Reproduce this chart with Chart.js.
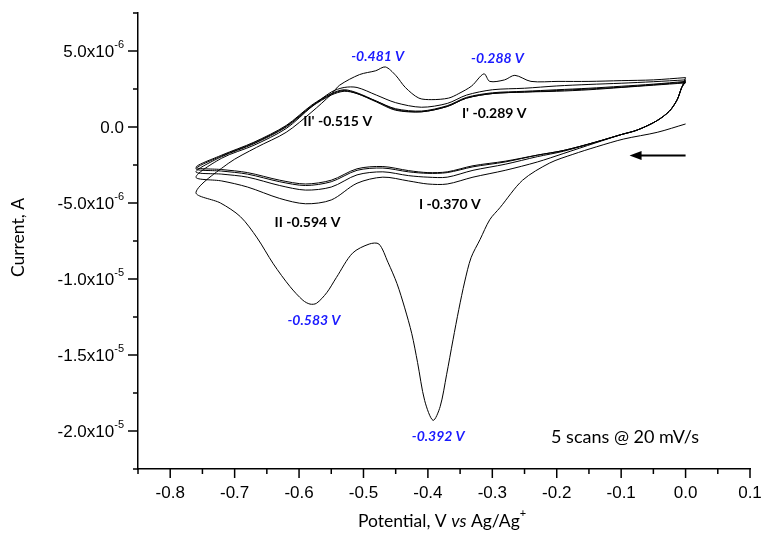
<!DOCTYPE html>
<html>
<head>
<meta charset="utf-8">
<script src="https://cdn.jsdelivr.net/npm/chart.js@4.4.1/dist/chart.umd.min.js"></script>
<style>
  html, body { margin: 0; padding: 0; background: #fff; }
  #wrap { width: 762px; height: 540px; }
</style>
</head>
<body>
<div id="wrap"><canvas id="cv" width="762" height="540"></canvas></div>
<script>
// potentials (V vs Ag/Ag+) and currents (in microamps, the axis shows them as A)

// scan 1 : first sweep, starts at 0 V and goes cathodic
const scan1V = [0.0, -0.044, -0.096, -0.138, -0.175, -0.211, -0.253, -0.288, -0.304, -0.319, -0.333, -0.343, -0.352,
                -0.361, -0.371, -0.381, -0.392,
                -0.405, -0.416, -0.425, -0.436, -0.448, -0.462, -0.476, -0.491, -0.517, -0.542, -0.557, -0.573,
                -0.583, -0.594, -0.614, -0.64, -0.665, -0.691, -0.722, -0.76,
                -0.71, -0.666, -0.62, -0.58, -0.55, -0.537, -0.506, -0.481, -0.466, -0.45, -0.435, -0.414, -0.394,
                -0.368, -0.352, -0.332, -0.313, -0.304, -0.281, -0.265, -0.24, -0.198, -0.15, -0.10, -0.05, 0.0];
const scan1I = [0.2, -0.35, -0.79, -1.3, -1.8, -2.37, -3.5, -5.3, -6.1, -7.4, -8.6, -10.2, -12.0,
                -14.0, -16.3, -18.4, -19.3,
                -18.0, -15.5, -13.6, -11.9, -10.3, -8.9, -7.7, -7.7, -8.3, -9.9, -10.9, -11.6,
                -11.65, -11.4, -10.5, -9.0, -7.3, -5.9, -5.0, -4.3,
                -2.4, -1.34, -0.35, 1.0, 2.15, 2.75, 3.45, 3.7, 3.95, 3.4, 2.6, 1.9, 1.8,
                1.9, 2.2, 2.7, 3.5, 3.0, 3.1, 3.4, 3.0, 3.0, 3.0, 3.05, 3.1, 3.25];

// scans 2-5 share the same potential points
const sweepV = [0.0, -0.006, -0.013, -0.025, -0.045, -0.075, -0.10, -0.14, -0.19, -0.23, -0.28, -0.33, -0.37, -0.40,
                -0.43, -0.47, -0.51, -0.55, -0.59, -0.63, -0.68, -0.72, -0.76,
                -0.72, -0.67, -0.62, -0.58, -0.55, -0.53, -0.51, -0.48, -0.45, -0.41, -0.37, -0.34, -0.30, -0.25,
                -0.20, -0.15, -0.10, -0.05, 0.0];
const scan2I = [3.25, 2.6, 1.8, 1.05, 0.4, -0.2, -0.5, -1.05, -1.75, -2.3, -2.85, -3.3, -3.75, -3.75,
                -3.55, -3.3, -3.7, -4.8, -5.05, -4.7, -3.95, -3.55, -3.3,
                -2.05, -1.2, -0.1, 1.35, 2.3, 2.6, 2.6, 2.1, 1.6, 1.3, 1.55, 2.1, 2.45, 2.55,
                2.7, 2.8, 2.88, 2.98, 3.1];
const scan3I = [3.1, 2.6, 1.8, 1.05, 0.4, -0.2, -0.5, -1.0, -1.6, -1.95, -2.45, -2.85, -3.3, -3.3,
                -3.2, -2.95, -3.15, -3.95, -4.15, -3.85, -3.3, -3.1, -2.95,
                -1.95, -1.1, 0.0, 1.35, 2.1, 2.35, 2.2, 1.7, 1.2, 1.05, 1.4, 1.95, 2.25, 2.35,
                2.45, 2.55, 2.68, 2.82, 3.0];
const scan4I = [3.0, 2.6, 1.8, 1.05, 0.4, -0.2, -0.5, -1.0, -1.55, -1.85, -2.3, -2.62, -3.0, -3.05,
                -2.95, -2.7, -2.85, -3.6, -3.85, -3.6, -3.1, -2.9, -2.75,
                -1.9, -1.05, 0.05, 1.4, 2.15, 2.4, 2.2, 1.65, 1.1, 1.0, 1.35, 1.9, 2.2, 2.3,
                2.4, 2.5, 2.62, 2.78, 2.95];
const scan5I = [2.95, 2.6, 1.8, 1.05, 0.4, -0.2, -0.5, -1.0, -1.55, -1.85, -2.25, -2.55, -2.95, -3.0,
                -2.87, -2.6, -2.75, -3.5, -3.75, -3.5, -3.0, -2.8, -2.65,
                -1.85, -1.0, 0.1, 1.45, 2.2, 2.45, 2.25, 1.7, 1.15, 1.0, 1.35, 1.9, 2.2, 2.3,
                2.35, 2.45, 2.6, 2.75, 2.9];

// peak labels, placed in data coordinates (V, microamps)
const peakLabels = [
    { text: "-0.481 V", v: -0.478, i: 4.67, blue: true },
    { text: "-0.288 V", v: -0.292, i: 4.54, blue: true },
    { text: "II' -0.515 V", v: -0.540, i: 0.39, blue: false },
    { text: "I' -0.289 V", v: -0.297, i: 0.86, blue: false },
    { text: "II -0.594 V", v: -0.587, i: -6.28, blue: false },
    { text: "I -0.370 V", v: -0.366, i: -5.07, blue: false },
    { text: "-0.583 V", v: -0.577, i: -12.7, blue: true },
    { text: "-0.392 V", v: -0.384, i: -20.33, blue: true }
];

const scans = [
    { v: scan1V, i: scan1I },
    { v: sweepV, i: scan2I },
    { v: sweepV, i: scan3I },
    { v: sweepV, i: scan4I },
    { v: sweepV, i: scan5I }
];

const tickFont = '17px "Liberation Sans", Arial, sans-serif';
const supFont = '11px "Liberation Sans", Arial, sans-serif';
const labelFont = 'Lato, "Open Sans", sans-serif';

function isMultiple(val, step) {
    const r = val / step;
    return Math.abs(r - Math.round(r)) < 1e-6;
}

// draws "5.0x10" with a raised exponent, right aligned at x
function drawSciLabel(ctx, val, x, y) {
    ctx.textBaseline = 'middle';
    if (Math.abs(val) < 1e-9) {
        ctx.font = tickFont;
        ctx.textAlign = 'right';
        ctx.fillText("0.0", x, y + 1);
        return;
    }
    const exp = Math.floor(Math.log10(Math.abs(val)));
    const mant = val / Math.pow(10, exp);
    const main = mant.toFixed(1) + "x10";
    const sup = "-" + (6 - exp);
    ctx.font = tickFont;
    const wMain = ctx.measureText(main).width;
    ctx.font = supFont;
    const wSup = ctx.measureText(sup).width;
    const start = x - wMain - wSup;
    ctx.textAlign = 'left';
    ctx.font = tickFont;
    ctx.fillText(main, start, y + 1);
    ctx.font = supFont;
    ctx.fillText(sup, start + wMain, y - 6);
}

const decor = {
    id: 'decor',
    afterDraw(chart) {
        const ctx = chart.ctx;
        const xs = chart.scales.x;
        const ys = chart.scales.y;
        const area = chart.chartArea;
        ctx.save();
        ctx.strokeStyle = '#000';
        ctx.fillStyle = '#000';
        ctx.lineWidth = 1.5;

        // y ticks (outside) and labels
        ys.ticks.forEach(t => {
            const py = ys.getPixelForValue(t.value);
            const major = isMultiple(t.value, 5);
            ctx.beginPath();
            ctx.moveTo(area.left - (major ? 10 : 5), py);
            ctx.lineTo(area.left, py);
            ctx.stroke();
            if (major) drawSciLabel(ctx, t.value, area.left - 14, py);
        });

        // x ticks (outside)
        xs.ticks.forEach(t => {
            const px = xs.getPixelForValue(t.value);
            const major = isMultiple(t.value, 0.1);
            ctx.beginPath();
            ctx.moveTo(px, area.bottom);
            ctx.lineTo(px, area.bottom + (major ? 9 : 5));
            ctx.stroke();
        });

        // y axis title
        ctx.save();
        ctx.translate(18.5, 237.5);
        ctx.rotate(-Math.PI / 2);
        ctx.font = '17.5px ' + labelFont;
        ctx.textAlign = 'center';
        ctx.textBaseline = 'middle';
        ctx.fillText("Current, A", 0, 0);
        ctx.restore();

        // x axis title with italic "vs" and superscript +
        const parts = [
            { t: "Potential, V ", f: '17.5px ' + labelFont, dy: 0 },
            { t: "vs", f: 'italic 17.5px ' + labelFont, dy: 0 },
            { t: " Ag/Ag", f: '17.5px ' + labelFont, dy: 0 },
            { t: "+", f: '11px ' + labelFont, dy: -8 }
        ];
        let total = 0;
        parts.forEach(p => { ctx.font = p.f; p.w = ctx.measureText(p.t).width; total += p.w; });
        let cx = (area.left + area.right) / 2 - 2 - total / 2;
        ctx.textAlign = 'left';
        ctx.textBaseline = 'middle';
        parts.forEach(p => {
            ctx.font = p.f;
            ctx.fillText(p.t, cx, 521 + p.dy);
            cx += p.w;
        });

        // peak labels
        ctx.textAlign = 'center';
        peakLabels.forEach(l => {
            ctx.font = (l.blue ? 'italic bold 14px ' : 'bold 14px ') + labelFont;
            ctx.fillStyle = l.blue ? '#1a1aff' : '#000';
            ctx.fillText(l.text, xs.getPixelForValue(l.v), ys.getPixelForValue(l.i));
        });

        // scan info
        ctx.fillStyle = '#000';
        ctx.font = '18px ' + labelFont;
        ctx.fillText("5 scans @ 20 mV/s", xs.getPixelForValue(-0.094), ys.getPixelForValue(-20.4));

        // scan direction arrow
        const ax1 = xs.getPixelForValue(0.0);
        const ax2 = xs.getPixelForValue(-0.087);
        const ay = ys.getPixelForValue(-1.875);
        ctx.lineWidth = 2;
        ctx.beginPath();
        ctx.moveTo(ax1, ay);
        ctx.lineTo(ax2 + 8, ay);
        ctx.stroke();
        ctx.beginPath();
        ctx.moveTo(ax2, ay);
        ctx.lineTo(ax2 + 12, ay - 4.5);
        ctx.lineTo(ax2 + 12, ay + 4.5);
        ctx.closePath();
        ctx.fill();

        ctx.restore();
    }
};

const datasets = scans.map(s => ({
    data: s.v.map((x, k) => ({ x: x, y: s.i[k] })),
    showLine: true,
    borderColor: '#000',
    borderWidth: 1,
    pointRadius: 0,
    tension: 0.3,
    fill: false
}));

new Chart(document.getElementById('cv'), {
    type: 'scatter',
    data: { datasets: datasets },
    options: {
        responsive: false,
        animation: false,
        devicePixelRatio: 1,
        layout: { padding: { top: 13, right: 12, left: 0, bottom: 0 } },
        plugins: { legend: { display: false }, tooltip: { enabled: false } },
        scales: {
            x: {
                type: 'linear',
                min: -0.85,
                max: 0.1,
                grid: { display: false, drawTicks: false },
                border: { display: true, color: '#000', width: 1.5 },
                ticks: {
                    stepSize: 0.05,
                    autoSkip: false,
                    maxRotation: 0,
                    padding: 14,
                    color: '#000',
                    font: { family: '"Liberation Sans", Arial, sans-serif', size: 17 },
                    callback: function (value) {
                        if (!isMultiple(value, 0.1)) return '';
                        return (Math.round(value * 10) / 10).toFixed(1);
                    }
                },
                afterFit: function (scale) {
                    scale.height = 71;
                    scale.paddingLeft = 0;
                    scale.paddingRight = 0;
                }
            },
            y: {
                type: 'linear',
                min: -22.5,
                max: 7.5,
                grid: { display: false, drawTicks: false },
                border: { display: true, color: '#000', width: 1.5 },
                ticks: { stepSize: 2.5, display: false },
                afterFit: function (scale) {
                    scale.width = 138;
                }
            }
        }
    },
    plugins: [decor]
});
</script>
</body>
</html>
